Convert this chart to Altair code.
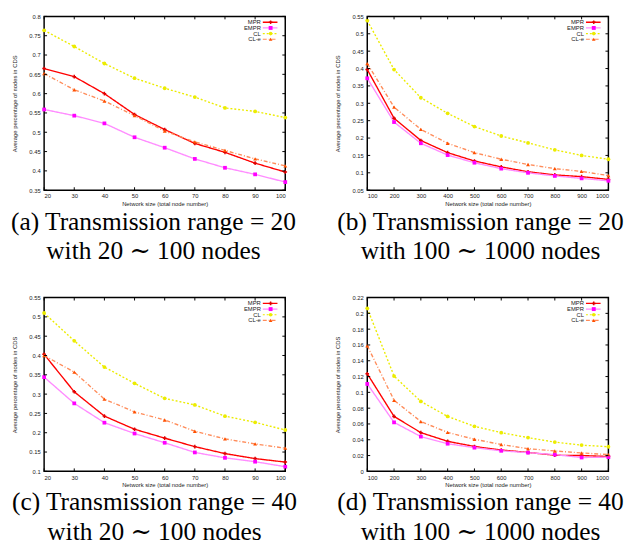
import altair as alt
import pandas as pd

SERIES = ["MPR", "EMPR", "CL", "CL-e"]
X_SMALL = [20, 30, 40, 50, 60, 70, 80, 90, 100]
X_LARGE = [100, 200, 300, 400, 500, 600, 700, 800, 900, 1000]

# (a) range 20, 20~100 nodes
A_MPR = [0.665, 0.644, 0.600, 0.546, 0.507, 0.471, 0.448, 0.420, 0.397]
A_EMPR = [0.559, 0.543, 0.523, 0.487, 0.460, 0.431, 0.408, 0.391, 0.371]
A_CL = [0.764, 0.722, 0.678, 0.640, 0.614, 0.591, 0.563, 0.554, 0.538]
A_CLE = [0.652, 0.610, 0.581, 0.543, 0.503, 0.475, 0.453, 0.431, 0.413]

# (b) range 20, 100~1000 nodes
B_MPR = [0.397, 0.257, 0.193, 0.158, 0.134, 0.117, 0.103, 0.094, 0.089, 0.081]
B_EMPR = [0.372, 0.246, 0.185, 0.151, 0.129, 0.112, 0.100, 0.091, 0.084, 0.077]
B_CL = [0.538, 0.397, 0.316, 0.271, 0.233, 0.206, 0.186, 0.166, 0.150, 0.139]
B_CLE = [0.414, 0.289, 0.225, 0.185, 0.158, 0.139, 0.124, 0.112, 0.104, 0.092]

# (c) range 40, 20~100 nodes
C_MPR = [0.403, 0.306, 0.243, 0.209, 0.186, 0.164, 0.146, 0.133, 0.124]
C_EMPR = [0.344, 0.276, 0.226, 0.198, 0.174, 0.149, 0.135, 0.125, 0.112]
C_CL = [0.510, 0.438, 0.370, 0.328, 0.289, 0.272, 0.243, 0.227, 0.207]
C_CLE = [0.400, 0.357, 0.287, 0.254, 0.233, 0.204, 0.184, 0.171, 0.160]

# (d) range 40, 100~1000 nodes
D_MPR = [0.1235, 0.0695, 0.049, 0.038, 0.0315, 0.027, 0.024, 0.0204, 0.020, 0.0188]
D_EMPR = [0.1107, 0.062, 0.044, 0.035, 0.030, 0.026, 0.0237, 0.0212, 0.0175, 0.018]
D_CL = [0.2064, 0.1206, 0.0885, 0.0695, 0.057, 0.049, 0.0427, 0.037, 0.0332, 0.0311]
D_CLE = [0.159, 0.090, 0.063, 0.0493, 0.0406, 0.034, 0.0287, 0.0258, 0.0233, 0.0212]

YT_A = [0.35, 0.4, 0.45, 0.5, 0.55, 0.6, 0.65, 0.7, 0.75, 0.8]
YT_B = [0.05, 0.1, 0.15, 0.2, 0.25, 0.3, 0.35, 0.4, 0.45, 0.5, 0.55]
YT_C = [0.1, 0.15, 0.2, 0.25, 0.3, 0.35, 0.4, 0.45, 0.5, 0.55]
YT_D = [0, 0.02, 0.04, 0.06, 0.08, 0.1, 0.12, 0.14, 0.16, 0.18, 0.2, 0.22]

CAPTIONS = [
    ["(a) Transmission range = 20", "with 20 \u223c 100 nodes"],
    ["(b) Transmission range = 20", "with 100 \u223c 1000 nodes"],
    ["(c) Transmission range = 40", "with 20 \u223c 100 nodes"],
    ["(d) Transmission range = 40", "with 100 \u223c 1000 nodes"],
]

X_TITLE = "Network size (total node number)"
Y_TITLE = "Average percentage of nodes in CDS"

LINE_COLORS = ["#ff0000", "#ff8cff", "#ecec00", "#ff8c5a"]
MARK_COLORS = ["#e00000", "#ff00ff", "#ecec00", "#ff5000"]
DASHES = [[1, 0], [1, 0], [2, 2], [4, 2, 1, 2]]
WIDTHS = [1.4, 1.4, 1.2, 1.2]
SHAPES = ["cross", "square", "circle", "triangle-up"]
SIZES = [14, 16, 14, 14]

SANS = "Liberation Sans"
SERIF = "Liberation Serif, DejaVu Serif"
W = 247
H = 178


def panel(xs, ys_list, yticks, caption, cap_x, cap_y):
    rows = []
    for s, ys in zip(SERIES, ys_list):
        for xv, yv in zip(xs, ys):
            rows.append({"x": xv, "y": yv, "s": s})
    df = pd.DataFrame(rows)
    xscale = alt.Scale(domain=[xs[0], xs[-1]], nice=False, zero=False)
    yscale = alt.Scale(domain=[yticks[0], yticks[-1]], nice=False, zero=False)
    xaxis = alt.Axis(values=xs, format="d", title=X_TITLE, ticks=False, domain=False,
                     grid=False, labelFontSize=6, titleFontSize=6, labelPadding=3,
                     titlePadding=2, titleFontWeight="normal", labelColor="#222",
                     titleColor="#222", labelFont=SANS, titleFont=SANS)
    yaxis = alt.Axis(values=yticks, format="~g", title=Y_TITLE, ticks=False, domain=False,
                     grid=False, labelFontSize=6, titleFontSize=6, labelPadding=4,
                     titlePadding=12, titleFontWeight="normal", labelColor="#222",
                     titleColor="#222", labelFont=SANS, titleFont=SANS)
    base = alt.Chart(df)
    lines = base.mark_line().encode(
        x=alt.X("x:Q", scale=xscale, axis=xaxis),
        y=alt.Y("y:Q", scale=yscale, axis=yaxis),
        color=alt.Color("s:N", scale=alt.Scale(domain=SERIES, range=LINE_COLORS), legend=None),
        strokeDash=alt.StrokeDash("s:N", scale=alt.Scale(domain=SERIES, range=DASHES), legend=None),
        strokeWidth=alt.StrokeWidth("s:N", scale=alt.Scale(domain=SERIES, range=WIDTHS), legend=None),
    )
    points = base.mark_point(filled=True, opacity=1, strokeWidth=0).encode(
        x=alt.X("x:Q", scale=xscale, axis=xaxis),
        y=alt.Y("y:Q", scale=yscale, axis=yaxis),
        fill=alt.Fill("s:N", scale=alt.Scale(domain=SERIES, range=MARK_COLORS), legend=None),
        shape=alt.Shape("s:N", scale=alt.Scale(domain=SERIES, range=SHAPES), legend=None),
        size=alt.Size("s:N", scale=alt.Scale(domain=SERIES, range=SIZES), legend=None),
    )
    ydf = pd.DataFrame({"y": yticks})
    xdf = pd.DataFrame({"x": xs})
    tick = dict(color="black", strokeWidth=1)
    yl = alt.Chart(ydf).mark_rule(**tick).encode(
        y=alt.Y("y:Q", scale=yscale, axis=yaxis), x=alt.value(0), x2=alt.value(3))
    yr = alt.Chart(ydf).mark_rule(**tick).encode(
        y=alt.Y("y:Q", scale=yscale, axis=yaxis), x=alt.value(W - 3), x2=alt.value(W))
    xb = alt.Chart(xdf).mark_rule(**tick).encode(
        x=alt.X("x:Q", scale=xscale, axis=xaxis), y=alt.value(H - 3), y2=alt.value(H))
    xt = alt.Chart(xdf).mark_rule(**tick).encode(
        x=alt.X("x:Q", scale=xscale, axis=xaxis), y=alt.value(0), y2=alt.value(3))

    layers = [lines, points, yl, yr, xb, xt]
    # legend (top right, inside)
    for i, s in enumerate(SERIES):
        ly = 6 + 5.8 * i
        ldf = pd.DataFrame({"s": [s]})
        lb = alt.Chart(ldf)
        layers.append(lb.mark_text(align="right", baseline="middle", fontSize=6,
                                   font=SANS, color="#222").encode(
            text="s:N", x=alt.value(W - 25), y=alt.value(ly)))
        layers.append(lb.mark_rule(color=LINE_COLORS[i], strokeDash=DASHES[i],
                                   strokeWidth=WIDTHS[i]).encode(
            x=alt.value(W - 23), x2=alt.value(W - 8), y=alt.value(ly)))
        layers.append(lb.mark_point(filled=True, opacity=1, strokeWidth=0,
                                    fill=MARK_COLORS[i], shape=SHAPES[i],
                                    size=SIZES[i]).encode(
            x=alt.value(W - 15), y=alt.value(ly)))
    cdf = pd.DataFrame({"c": [0]})
    layers.append(alt.Chart(cdf).mark_text(font=SERIF, fontSize=26, lineHeight=30,
                                           align="center", baseline="alphabetic",
                                           color="black").encode(
        x=alt.value(cap_x), y=alt.value(cap_y), text=alt.value(caption)))
    return alt.layer(*layers).properties(width=W, height=H)


pa = panel(X_SMALL, [A_MPR, A_EMPR, A_CL, A_CLE], YT_A, CAPTIONS[0], 112, 219)
pb = panel(X_LARGE, [B_MPR, B_EMPR, B_CL, B_CLE], YT_B, CAPTIONS[1], 116, 219)
pc = panel(X_SMALL, [C_MPR, C_EMPR, C_CL, C_CLE], YT_C, CAPTIONS[2], 113, 218)
pd_ = panel(X_LARGE, [D_MPR, D_EMPR, D_CL, D_CLE], YT_D, CAPTIONS[3], 116, 218)

chart = alt.concat(pa, pb, pc, pd_, columns=2,
                   spacing={"row": 110, "column": 84}, bounds="flush").properties(
    padding={"left": 2, "top": -2, "right": 0, "bottom": 0},
    background="white",
).configure_view(stroke="black", strokeWidth=1.5)

chart.save("out.html", embed_options={"renderer": "svg", "actions": False})
